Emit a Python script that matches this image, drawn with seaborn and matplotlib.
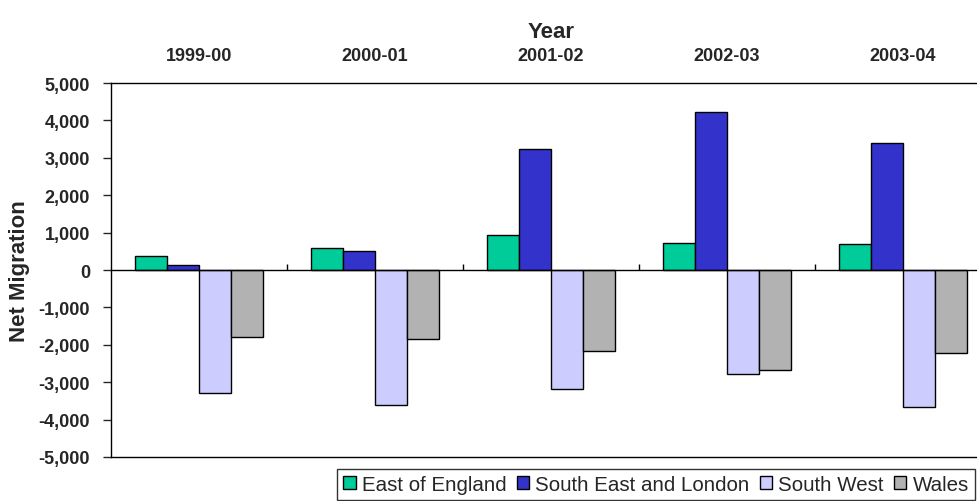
import numpy as np
import pandas as pd
import matplotlib as mpl
mpl.use("Agg")
import matplotlib.pyplot as plt
import seaborn as sns
from matplotlib.ticker import FuncFormatter

# data
years = ["1999-00", "2000-01", "2001-02", "2002-03", "2003-04"]
regions = ["East of England", "South East and London", "South West", "Wales"]
east_of_england = [380, 580, 940, 710, 700]
south_east_london = [125, 510, 3230, 4220, 3390]
south_west = [-3290, -3610, -3180, -2780, -3660]
wales = [-1800, -1850, -2175, -2680, -2210]
colours = ["#00CC99", "#3333CC", "#CCCCFF", "#B2B2B2"]

df = pd.DataFrame({
    "Year": years * 4,
    "Region": np.repeat(regions, len(years)),
    "Net": east_of_england + south_east_london + south_west + wales,
})

sns.set_style("white")
plt.rcParams['font.family'] = ['Liberation Sans', 'DejaVu Sans']

fig = plt.figure(figsize=(9.78, 5.02), dpi=100)
# axes runs a little past the right edge, like the cropped original
ax = fig.add_axes([111/978, 44/502, 880/978, 374/502])

sns.barplot(data=df, x="Year", y="Net", hue="Region", order=years,
            hue_order=regions, palette=dict(zip(regions, colours)),
            saturation=1, width=0.727, gap=0, edgecolor="black", linewidth=1,
            errorbar=None, ax=ax)

ax.set_ylim(-5000, 5000)
ax.set_xlim(-0.5, 4.5)
ax.set_yticks(np.arange(-5000, 5001, 1000))
ax.yaxis.set_major_formatter(FuncFormatter(lambda v, p: f"{int(v):,}"))
ax.tick_params(axis="y", direction="out", length=6, width=1, pad=9,
               labelsize=13, left=True)
for t in ax.get_yticklabels():
    t.set_fontweight("bold")

# category labels and "Year" on top
ax.xaxis.tick_top()
ax.xaxis.set_label_position("top")
ax.set_xticks(range(len(years)))
ax.set_xticklabels(years, fontsize=13, fontweight="bold")
ax.tick_params(axis="x", length=0, pad=14)
ax.set_xlabel("Year", fontsize=16, fontweight="bold", labelpad=7)
ax.set_ylabel("Net Migration", fontsize=16, fontweight="bold", labelpad=6)

for s in ax.spines.values():
    s.set_color("black")
    s.set_linewidth(1)
    s.set_visible(True)

# zero line with small category divider ticks
ax.axhline(0, color="black", lw=1, zorder=3)
ax.vlines(np.arange(0.5, len(years) - 0.5), 0, 150, color="black", lw=1, zorder=3)

handles, labels = ax.get_legend_handles_labels()
ax.get_legend().remove()
leg = fig.legend(handles, labels, loc="upper right",
                 bbox_to_anchor=(975/978, 1 - 470/502), ncol=4, fontsize=14.8,
                 frameon=True, fancybox=False, edgecolor="black",
                 handlelength=0.6, handleheight=0.6, handletextpad=0.3,
                 columnspacing=0.5, borderpad=0.3, borderaxespad=0)
leg.get_frame().set_linewidth(1)

fig.savefig("out.png", dpi=100)
